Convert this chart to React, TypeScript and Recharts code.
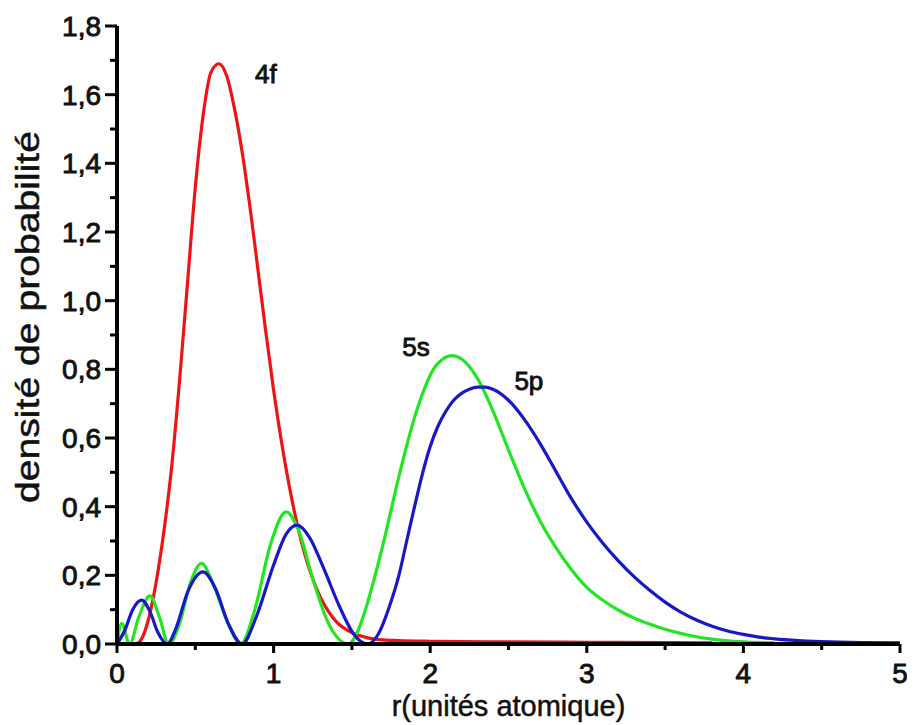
import { LineChart, Line, XAxis, YAxis, ReferenceDot } from "recharts";

// r (unités atomiques) and probability density
const R_4F = [0, 0.1, 0.13, 0.15, 0.2, 0.25, 0.3, 0.35, 0.4, 0.45, 0.5, 0.55, 0.6, 0.65, 0.7, 0.75, 0.8, 0.85, 0.9, 0.95, 1.0, 1.05, 1.1, 1.15, 1.2, 1.25, 1.3, 1.35, 1.4, 1.5, 1.6, 1.7, 1.8, 2.0, 2.5, 3.0, 3.5, 3.8];
const D_4F = [0, 0, 0.002, 0.01, 0.07, 0.18, 0.33, 0.52, 0.77, 1.05, 1.33, 1.54, 1.665, 1.69, 1.655, 1.56, 1.43, 1.27, 1.09, 0.91, 0.74, 0.59, 0.46, 0.35, 0.26, 0.19, 0.135, 0.095, 0.065, 0.033, 0.018, 0.012, 0.01, 0.008, 0.006, 0.005, 0.004, 0.003];

const R_5S = [0, 0.03, 0.08, 0.14, 0.21, 0.27, 0.33, 0.4, 0.47, 0.54, 0.61, 0.7, 0.79, 0.88, 0.98, 1.08, 1.16, 1.25, 1.35, 1.48, 1.54, 1.6, 1.66, 1.72, 1.78, 1.84, 1.9, 1.96, 2.02, 2.08, 2.14, 2.2, 2.3, 2.4, 2.5, 2.6, 2.7, 2.8, 2.9, 3.0, 3.1, 3.2, 3.3, 3.4, 3.5, 3.6, 3.7, 3.8, 3.9, 4.0, 4.2];
const D_5S = [0, 0.06, 0, 0.08, 0.14, 0.08, 0, 0.06, 0.18, 0.235, 0.18, 0.07, 0, 0.1, 0.29, 0.385, 0.33, 0.19, 0.06, 0, 0.04, 0.12, 0.22, 0.33, 0.45, 0.56, 0.66, 0.74, 0.8, 0.83, 0.84, 0.83, 0.775, 0.68, 0.565, 0.455, 0.36, 0.283, 0.218, 0.165, 0.128, 0.099, 0.076, 0.058, 0.043, 0.031, 0.021, 0.014, 0.009, 0.006, 0.003];

const R_5P = [0, 0.05, 0.1, 0.157, 0.21, 0.26, 0.32, 0.38, 0.45, 0.55, 0.63, 0.71, 0.8, 0.89, 1.0, 1.08, 1.15, 1.23, 1.32, 1.42, 1.51, 1.6, 1.67, 1.74, 1.8, 1.85, 1.9, 1.95, 2.0, 2.05, 2.1, 2.15, 2.2, 2.25, 2.3, 2.35, 2.4, 2.5, 2.6, 2.7, 2.8, 2.9, 3.0, 3.1, 3.2, 3.3, 3.4, 3.5, 3.6, 3.7, 3.8, 3.9, 4.0, 4.1, 4.2, 4.35, 4.5, 4.75, 5.0];
const D_5P = [0, 0.04, 0.1, 0.128, 0.095, 0.035, 0, 0.05, 0.15, 0.21, 0.16, 0.06, 0, 0.08, 0.23, 0.32, 0.346, 0.31, 0.22, 0.11, 0.03, 0, 0.03, 0.11, 0.2, 0.3, 0.4, 0.495, 0.575, 0.635, 0.678, 0.71, 0.73, 0.742, 0.748, 0.748, 0.742, 0.71, 0.655, 0.585, 0.505, 0.425, 0.355, 0.295, 0.243, 0.197, 0.157, 0.122, 0.093, 0.07, 0.052, 0.038, 0.028, 0.02, 0.015, 0.01, 0.007, 0.004, 0.003];

const X_TICKS = [0, 0.5, 1, 1.5, 2, 2.5, 3, 3.5, 4, 4.5, 5];
const Y_TICKS = [0, 0.1, 0.2, 0.3, 0.4, 0.5, 0.6, 0.7, 0.8, 0.9, 1.0, 1.1, 1.2, 1.3, 1.4, 1.5, 1.6, 1.7, 1.8];

const LABELS = [
  { text: "4f", r: 0.95, d: 1.66 },
  { text: "5s", r: 1.91, d: 0.865 },
  { text: "5p", r: 2.63, d: 0.766 },
];

const FONT = "'Liberation Sans', Arial, Helvetica, sans-serif";
const INK = "#111";

const toRows = (rs: number[], ds: number[]) => rs.map((r, i) => ({ r, d: ds[i] }));

const data4f = toRows(R_4F, D_4F);
const data5s = toRows(R_5S, D_5S);
const data5p = toRows(R_5P, D_5P);

function XTick({ x, y, payload }: any) {
  const v = payload.value as number;
  const major = Number.isInteger(v);
  return (
    <g>
      <line x1={x} x2={x} y1={y} y2={y + (major ? 9 : 6)} stroke="#000" strokeWidth={3} />
      {major && (
        <text x={x} y={y + 39} textAnchor="middle" fontSize={28} fontFamily={FONT} fill={INK} stroke={INK} strokeWidth={0.9}>
          {v}
        </text>
      )}
    </g>
  );
}

function YTick({ x, y, payload }: any) {
  const v = payload.value as number;
  const major = Math.round(v * 10) % 2 === 0;
  return (
    <g>
      <line x1={x - (major ? 12 : 7)} x2={x} y1={y} y2={y} stroke="#000" strokeWidth={3} />
      {major && (
        <text x={x - 16} y={y + 10} textAnchor="end" fontSize={28} fontFamily={FONT} fill={INK} stroke={INK} strokeWidth={0.9}>
          {v.toFixed(1).replace(".", ",")}
        </text>
      )}
    </g>
  );
}

export default function App() {
  return (
    <LineChart width={907} height={717} margin={{ top: 18, right: 15, bottom: 1, left: 9 }}>
      <XAxis
        type="number"
        dataKey="r"
        domain={[0, 5]}
        ticks={X_TICKS}
        interval={0}
        height={80}
        tickSize={0}
        tickMargin={0}
        tickLine={false}
        axisLine={{ stroke: "#000", strokeWidth: 4 }}
        tick={<XTick />}
        label={({ viewBox }: any) => (
          <text
            x={viewBox.x + viewBox.width / 2}
            y={viewBox.y + 72}
            textAnchor="middle"
            fontSize={29}
            fontFamily={FONT}
            fill={INK}
            stroke={INK}
            strokeWidth={0.5}
          >
            r(unités atomique)
          </text>
        )}
      />
      <YAxis
        type="number"
        domain={[0, 1.8]}
        ticks={Y_TICKS}
        interval={0}
        width={100}
        tickSize={0}
        tickMargin={0}
        tickLine={false}
        axisLine={{ stroke: "#000", strokeWidth: 4 }}
        tick={<YTick />}
        label={({ viewBox }: any) => {
          const cx = viewBox.x + 22;
          const cy = viewBox.y + viewBox.height / 2 - 18;
          return (
            <text
              x={cx}
              y={cy}
              transform={`rotate(-90 ${cx} ${cy})`}
              textAnchor="middle"
              fontSize={33}
              textLength={372}
              lengthAdjust="spacingAndGlyphs"
              fontFamily={FONT}
              fill={INK}
              stroke={INK}
              strokeWidth={0.5}
            >
              densité de probabilité
            </text>
          );
        }}
      />
      <Line data={data4f} dataKey="d" type="monotone" stroke="#ee1414" strokeWidth={3.2} dot={false} isAnimationActive={false} />
      <Line data={data5s} dataKey="d" type="monotone" stroke="#22e622" strokeWidth={3.2} dot={false} isAnimationActive={false} />
      <Line data={data5p} dataKey="d" type="monotone" stroke="#1818c8" strokeWidth={3.2} dot={false} isAnimationActive={false} />
      {LABELS.map((l) => (
        <ReferenceDot
          key={l.text}
          x={l.r}
          y={l.d}
          r={0}
          ifOverflow="visible"
          label={{ value: l.text, position: "center", fontSize: 26, fontFamily: FONT, fill: INK, stroke: INK, strokeWidth: 0.9 }}
        />
      ))}
    </LineChart>
  );
}
